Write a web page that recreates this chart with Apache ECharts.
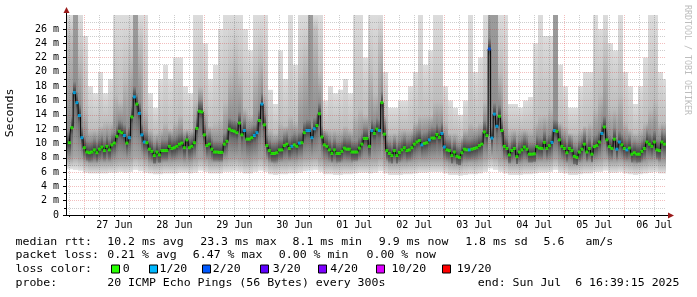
<!DOCTYPE html>
<html><head><meta charset="utf-8">
<script src="https://cdn.jsdelivr.net/npm/echarts@6/dist/echarts.min.js"></script>
<style>html,body{margin:0;padding:0;background:#fff}#c{width:697px;height:297px}</style>
</head><body><div id="c"></div>
<script>
// ===== data (hours relative to 27 Jun 00:00) =====
const HOUR_START = -6;
const medians = [
 10.1,12.2,17.1,15.7,13.9,10.8,9.4,8.8,8.7,8.8,
 9.1,8.7,9.2,9.5,9.0,9.6,9.1,9.8,10.05,11.0,
 11.7,11.5,11.1,10.05,10.8,13.7,16.5,15.5,14.2,11.2,
 10.2,10.1,9.2,8.9,8.3,8.8,8.4,9.0,9.0,9.0,
 9.6,9.3,9.4,9.6,9.9,10.05,9.4,10.5,9.4,9.6,
 10.1,12.1,14.5,14.4,11.2,9.7,9.9,9.2,8.8,
 8.8,8.75,8.75,
 9.9,10.3,12.0,11.8,11.7,11.5,12.85,11.2,11.8,10.6,10.6,10.8,11.1,11.5,13.2,15.5,12.6,9.7,9.0,8.6,
 8.6,8.7,9.1,9.1,9.7,9.9,9.3,9.6,9.8,9.6,10.05,10.1,11.5,11.8,11.8,10.8,12.05,12.5,14.15,10.9,
 9.8,9.6,9.1,8.6,9.1,8.6,8.6,8.9,9.35,9.2,9.2,8.8,8.8,8.8,9.35,9.9,10.7,10.7,
 9.6,11.8,11.4,12.0,11.8,15.7,11.3,9.0,8.6,8.3,9.0,8.3,8.75,9.1,9.4,9.0,9.1,9.4,9.9,10.2,
 10.4,9.8,10.0,10.1,10.5,10.75,10.75,11.25,10.85,11.4,9.5,9.1,9.0,8.3,8.8,8.2,8.05,8.7,9.2,9.1,
 9.1,9.2,9.3,9.4,9.7,9.9,11.6,11.1,23.2,10.75,14.1,12.4,13.8,11.8,9.6,9.3,8.4,9.0,9.3,8.15,
 8.8,9.1,9.5,9.2,8.5,8.5,8.55,9.55,9.35,9.3,10.15,9.3,9.7,10.15,11.8,11.7,10.5,9.6,9.3,8.7,
 9.3,9.0,8.2,8.05,8.8,9.2,9.9,8.8,9.3,8.5,9.55,9.7,10.2,11.4,12.3,10.5,9.55,9.3,10.6,9.2,
 10.2,9.8,9.3,9.1,9.35,8.5,8.7,8.5,8.5,8.9,9.3,10.2,9.9,9.6,10.2,9.1,9.0,10.2,9.9
];
const lossHours  = [-4,-3,-2,-1,16,18,20,22,23,24,64,68,69,71,83,86,89,90,91,92,115,118,135,138,143,144,154,162,163,164,165,187,188,207,213,214,217];
const lossLevels = [ 1, 1, 1, 1, 1, 1, 1, 1, 1, 1, 1, 1, 1, 1, 1, 1, 1, 1, 1, 1,  1,  1,  1,  1,  1,  1,  1,  2,  1,  1,  1,  1,  1,  1,  1,  1,  1];
// smoke (2-hour buckets starting at hour -6)
const smokeHi = [
 28,28,28,25,18,17,20,17,19,28, 28,28,28,28,28,28,17,15,19,21, 19,22,22,18,17,28,28,24,19,21,
 26,28,28,28,28,26,23,28,28,28, 17.5,15.5,23,19,28,21,28,28,28,28, 28,16,18,17,17.5,19,17,28,28,22,
 28,28,28,20,15,15,16,16,18,20, 28,21,23,28,28,18,16,15,14,16, 28,20,22,28,28,28,28,28,15.5,15.5,
 15,16,16.5,24,28,25,25,28,21,18, 15,15,18,20,20,28,26,28,24,23, 28,20,18,15.5,18,22,28,28,20,19];
const smokeQ3 = [
 25,28,22,15,12,12,12.5,13,13,17, 16,19,22,28,24,15,12,11.5,12,13, 12,13,14,12,12,16,18,15,12.5,13,
 13.5,16,20,22,20,15,14,20,22,17, 12,11.5,13,12.5,14,13,20,22,28,26, 20,12,12,12,12,12.5,12,14,15,14,
 20,17,24,14,11.5,11.5,12,12,12,13, 14,14,14,16,16,13,11.5,11.5,11,12, 13,12.5,13,16,28,28,20,15,12,12,
 12,12,12,13,14,14,15,28,13,12.5, 11.5,11.5,12,12.5,13,15,17,22,15,15, 17,13,12,11.5,12,13,15,16,13,13];
const smokeQ1 = [
 7.8,8.2,7.9,7.4,7.2,7.2,7.3,7.3,7.3,7.5, 7.6,7.6,7.7,8.2,8.0,7.6,7.2,7.1,7.2,7.3, 7.3,7.4,7.4,7.3,7.3,7.6,7.9,7.6,7.3,7.3,
 7.3,7.6,7.8,7.9,7.7,7.5,7.5,7.7,8.0,7.6, 7.2,7.1,7.3,7.3,7.4,7.4,7.6,7.8,7.9,8.0, 7.6,7.2,7.2,7.1,7.2,7.2,7.2,7.4,7.5,7.5,
 7.6,7.6,7.9,7.4,7.1,7.1,7.2,7.2,7.3,7.4, 7.5,7.5,7.6,7.6,7.6,7.3,7.1,7.0,7.0,7.2, 7.3,7.3,7.4,7.7,8.2,8.0,7.6,7.4,7.1,7.1,
 7.1,7.2,7.2,7.3,7.4,7.4,7.5,7.9,7.4,7.2, 7.0,7.0,7.2,7.3,7.3,7.5,7.6,7.9,7.4,7.4, 7.5,7.3,7.2,7.1,7.2,7.3,7.5,7.6,7.3,7.3];
const smokeLo = [
 6.4,6.3,6.2,5.9,5.8,5.8,5.8,5.8,5.9,5.9, 6.0,5.9,6.0,6.3,6.1,5.9,5.8,5.7,5.7,5.8, 5.8,5.8,5.9,5.9,5.8,5.9,6.2,6.0,5.8,5.8,
 5.8,6.0,6.0,6.1,6.0,5.8,5.8,6.0,6.2,6.0, 5.7,5.6,5.7,5.7,5.8,5.8,5.9,6.1,6.2,6.3, 6.0,5.7,5.7,5.6,5.6,5.7,5.7,5.8,5.9,5.9,
 5.8,5.9,6.1,5.8,5.6,5.6,5.6,5.7,5.7,5.8, 5.9,5.9,6.0,6.0,6.0,5.8,5.6,5.6,5.5,5.6, 5.7,5.7,5.8,6.0,6.5,6.3,6.0,5.8,5.6,5.6,
 5.6,5.7,5.7,5.8,5.9,5.9,6.0,6.3,5.9,5.8, 5.6,5.6,5.7,5.8,5.8,6.0,6.0,6.2,5.9,5.9, 6.0,5.8,5.7,5.6,5.7,5.8,5.9,6.0,5.8,5.8];
const dayLabels = ['27 Jun','28 Jun','29 Jun','30 Jun','01 Jul','02 Jul','03 Jul','04 Jul','05 Jul','06 Jul'];
const yTickValues = [0,2,4,6,8,10,12,14,16,18,20,22,24,26];
const yTickLabels = ['0','2 m','4 m','6 m','8 m','10 m','12 m','14 m','16 m','18 m','20 m','22 m','24 m','26 m'];
const lossLegend = ['0','1/20','2/20','3/20','4/20','10/20','19/20'];
const rttRow  = ['median rtt:','10.2 ms avg','23.3 ms max','8.1 ms min','9.9 ms now','1.8 ms sd','5.6','am/s'];
const lossRow = ['packet loss:','0.21 % avg','6.47 % max','0.00 % min','0.00 % now'];
const probeRow = ['probe:','20 ICMP Echo Pings (56 Bytes) every 300s','end: Sun Jul  6 16:39:15 2025'];

// ===== styling / layout =====
const lossColors = ['#26ff00','#00b8ff','#0059ff','#5e00ff','#7e00ff','#dd00ff','#ff0000'];
const X_MIN = -7.35, X_MAX = 232.65, Y_MAX = 27.95;
const MONO = '"DejaVu Sans Mono", monospace';
const RED_GRID = 'rgba(215,40,40,0.30)';
const GRAY_GRID = 'rgba(90,90,90,0.30)';

const hours = medians.map((_, i) => HOUR_START + i);
const lossOf = {};
lossHours.forEach((h, i) => { lossOf[h] = lossLevels[i]; });
const bucketOf = h => Math.min(smokeHi.length - 1, Math.max(0, Math.floor((h - HOUR_START) / 2)));
const smokeData = hours.map((h, i) => { const k = bucketOf(h); return [h, smokeLo[k], smokeQ1[k], medians[i], smokeQ3[k], smokeHi[k]]; });
const lineData = hours.map((h, i) => [h, medians[i]]);
const markData = hours.map((h, i) => [h, medians[i], lossOf[h] || 0]);

const sixH = [], midn = [], noons = [];
for (let h = -6; h <= X_MAX; h += 6) { if (h % 24 !== 0) sixH.push(h); else midn.push(h); }
dayLabels.forEach((_, i) => noons.push(12 + 24 * i));
const oddY = []; for (let v = 1; v <= 27; v += 2) oddY.push(v);

function renderSmoke(params, api) {
  const h = api.value(0), lo = api.value(1), q1 = api.value(2), med = api.value(3), q3 = api.value(4);
  const hi = Math.min(api.value(5), Y_MAX);
  const xa = params.dataIndex === 0 ? X_MIN : Math.max(X_MIN, h - 0.5);
  const xb = Math.min(X_MAX, h + 0.5);
  const pA = api.coord([xa, hi]), pB = api.coord([xb, lo]);
  const span = hi - lo;
  const off = v => Math.max(0, Math.min(1, (hi - v) / span));
  const stops = [];
  const push = (v, c) => { const o = off(v); if (!stops.length || o > stops[stops.length - 1].offset) stops.push({offset: o, color: c}); };
  const darkTop = q3 >= hi - 0.05;
  push(hi, darkTop ? '#9c9c9c' : '#dcdcdc');
  if (!darkTop) push(q3, '#bebebe');
  if (med + 1.6 < q3) push(med + 1.6, '#8e8e8e');
  push(med, '#3c3c3c');
  if (med - 1.0 > q1) push(med - 1.0, '#6c6c6c');
  push(q1, '#a6a6a6');
  push(lo, '#e4e4e4');
  const x0 = Math.round(pA[0]), x1 = Math.round(pB[0]);
  return {
    type: 'rect',
    shape: {x: x0, y: pA[1], width: x1 - x0, height: pB[1] - pA[1]},
    style: {fill: {type: 'linear', x: 0, y: 0, x2: 0, y2: 1, colorStops: stops}}
  };
}

const chart = echarts.init(document.getElementById('c'), null, {renderer: 'canvas'});
const baseX = {type: 'value', gridIndex: 0, min: X_MIN, max: X_MAX, position: 'bottom', z: 3};
const baseY = {type: 'value', gridIndex: 0, min: 0, max: Y_MAX, position: 'left', z: 3};

chart.setOption({
  animation: false,
  backgroundColor: '#ffffff',
  textStyle: {fontFamily: MONO},
  grid: {left: 66, right: 31, top: 15, bottom: 82, containLabel: false},
  xAxis: [
    Object.assign({}, baseX, {
      axisLine: {show: true, onZero: false, lineStyle: {color: '#000', width: 1}},
      axisTick: {show: true, length: 2, customValues: sixH, lineStyle: {color: '#000'}},
      axisLabel: {show: false},
      splitLine: {show: true, lineStyle: {color: GRAY_GRID, width: 1, type: [1, 1]}}
    }),
    Object.assign({}, baseX, {
      axisLine: {show: false, onZero: false},
      axisTick: {show: true, length: 3, customValues: midn, lineStyle: {color: '#000'}},
      axisLabel: {show: true, customValues: noons, margin: 5, fontSize: 10, fontFamily: MONO, color: '#000',
        formatter: v => dayLabels[Math.round((v - 12) / 24)] || ''},
      splitLine: {show: true, lineStyle: {color: RED_GRID, width: 1, type: [1, 1]}}
    })
  ],
  yAxis: [
    Object.assign({}, baseY, {
      axisLine: {show: true, onZero: false, lineStyle: {color: '#000', width: 1}},
      axisTick: {show: true, length: 2, customValues: oddY, lineStyle: {color: '#000'}},
      axisLabel: {show: false},
      splitLine: {show: true, lineStyle: {color: GRAY_GRID, width: 1, type: [1, 1]}}
    }),
    Object.assign({}, baseY, {
      axisLine: {show: false, onZero: false},
      axisTick: {show: true, length: 3, customValues: yTickValues, lineStyle: {color: '#000'}},
      axisLabel: {show: true, customValues: yTickValues, margin: 7, fontSize: 10, fontFamily: MONO, color: '#000',
        formatter: v => yTickLabels[yTickValues.indexOf(v)] || ''},
      splitLine: {show: true, lineStyle: {color: RED_GRID, width: 1, type: [1, 1]}}
    })
  ],
  series: [
    {type: 'custom', name: 'smoke', xAxisIndex: 0, yAxisIndex: 0, z: 1,
     renderItem: renderSmoke, encode: {x: 0, y: [1, 5]}, data: smokeData, silent: true},
    {type: 'line', name: 'median', xAxisIndex: 0, yAxisIndex: 0, z: 6, step: 'middle',
     symbol: 'none', lineStyle: {color: '#000', width: 1}, data: lineData, silent: true},
    {type: 'scatter', name: 'loss', xAxisIndex: 0, yAxisIndex: 0, z: 7, symbol: 'rect', symbolSize: [3, 3],
     data: markData, silent: true,
     itemStyle: {color: p => lossColors[p.data[2]]}}
  ]
});

// ---- texts, legend, arrows ----
const origin = chart.convertToPixel({gridIndex: 0}, [X_MIN, 0]);
const corner = chart.convertToPixel({gridIndex: 0}, [X_MAX, Y_MAX]);
const ax = Math.round(origin[0]), ay = Math.round(origin[1]);
const ARROW = '#9a1a1a';
const FONT_L = '10.5px ' + MONO;
const SX = 1.1;
const g = [];
function txt(s, x, y) {
  g.push({type: 'text', x: x, y: y, scaleX: SX, style: {text: s, font: FONT_L, fill: '#000', align: 'left', verticalAlign: 'middle'}});
}
const rowY = [242, 255.5, 269.5, 283];
const rttX = [15.5, 107.2, 200.2, 292.5, 378.8, 465.2, 543.5, 585.5];
rttRow.forEach((s, i) => txt(s, rttX[i], rowY[0]));
const lossX = [15.5, 107.2, 192.8, 278.8, 366.5];
lossRow.forEach((s, i) => txt(s, lossX[i], rowY[1]));
txt('loss color:', 15.5, rowY[2]);
const boxX = [111.5, 149.5, 202.5, 260.5, 318.5, 376.5, 442.5];
const labX = [122.8, 159.5, 212.8, 272.8, 330.2, 391.5, 456.8];
lossLegend.forEach((s, i) => {
  g.push({type: 'rect', shape: {x: boxX[i], y: rowY[2] - 4.5, width: 8, height: 8},
    style: {fill: lossColors[i], stroke: '#000', lineWidth: 1}});
  txt(s, labX[i], rowY[2]);
});
const probeX = [15.5, 107.2, 477.8];
probeRow.forEach((s, i) => txt(s, probeX[i], rowY[3]));
// axis title
g.push({type: 'text', x: 10, y: 113, rotation: Math.PI / 2, scaleX: SX,
  style: {text: 'Seconds', font: FONT_L, fill: '#000', align: 'center', verticalAlign: 'middle'}});
// watermark
g.push({type: 'text', x: 687, y: 60, rotation: -Math.PI / 2,
  style: {text: 'RRDTOOL / TOBI OETIKER', font: '8.3px ' + MONO, fill: '#bdbdbd', align: 'center', verticalAlign: 'middle'}});
// axis extensions and arrows
g.push({type: 'line', shape: {x1: ax + 0.5, y1: corner[1], x2: ax + 0.5, y2: corner[1] - 3}, style: {stroke: '#000', lineWidth: 1}});
g.push({type: 'polygon', shape: {points: [[ax - 2.5, corner[1] - 2], [ax + 3.5, corner[1] - 2], [ax + 0.5, corner[1] - 8]]}, style: {fill: ARROW}});
g.push({type: 'line', shape: {x1: corner[0], y1: ay + 0.5, x2: corner[0] + 3, y2: ay + 0.5}, style: {stroke: '#000', lineWidth: 1}});
g.push({type: 'polygon', shape: {points: [[corner[0] + 2, ay - 2.5], [corner[0] + 2, ay + 3.5], [corner[0] + 8, ay + 0.5]]}, style: {fill: ARROW}});
chart.setOption({graphic: g});
</script>
</body></html>
